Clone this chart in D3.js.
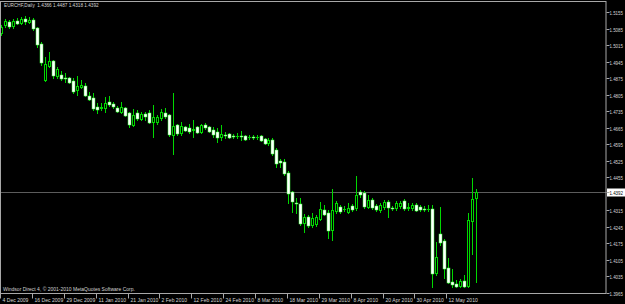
<!DOCTYPE html>
<html><head><meta charset="utf-8">
<script src="https://cdn.jsdelivr.net/npm/d3@7"></script>
<style>html,body{margin:0;padding:0;background:#000;overflow:hidden}</style>
</head><body><svg id="c" width="625" height="304"></svg>
<script>
const dates=["2009-12-04","2009-12-07","2009-12-08","2009-12-09","2009-12-10","2009-12-11","2009-12-14","2009-12-15","2009-12-16","2009-12-17",
"2009-12-18","2009-12-21","2009-12-22","2009-12-23","2009-12-24","2009-12-28","2009-12-29","2009-12-30","2009-12-31","2010-01-04",
"2010-01-05","2010-01-06","2010-01-07","2010-01-08","2010-01-11","2010-01-12","2010-01-13","2010-01-14","2010-01-15","2010-01-18",
"2010-01-19","2010-01-20","2010-01-21","2010-01-22","2010-01-25","2010-01-26","2010-01-27","2010-01-28","2010-01-29","2010-02-01",
"2010-02-02","2010-02-03","2010-02-04","2010-02-05","2010-02-08","2010-02-09","2010-02-10","2010-02-11","2010-02-12","2010-02-15",
"2010-02-16","2010-02-17","2010-02-18","2010-02-19","2010-02-22","2010-02-23","2010-02-24","2010-02-25","2010-02-26","2010-03-01",
"2010-03-02","2010-03-03","2010-03-04","2010-03-05","2010-03-08","2010-03-09","2010-03-10","2010-03-11","2010-03-12","2010-03-15",
"2010-03-16","2010-03-17","2010-03-18","2010-03-19","2010-03-22","2010-03-23","2010-03-24","2010-03-25","2010-03-26","2010-03-28",
"2010-03-29","2010-03-30","2010-03-31","2010-04-01","2010-04-02","2010-04-05","2010-04-06","2010-04-07","2010-04-08","2010-04-09",
"2010-04-12","2010-04-13","2010-04-14","2010-04-15","2010-04-16","2010-04-19","2010-04-20","2010-04-21","2010-04-22","2010-04-23",
"2010-04-26","2010-04-27","2010-04-28","2010-04-29","2010-04-30","2010-05-03","2010-05-04","2010-05-05","2010-05-06","2010-05-07",
"2010-05-10","2010-05-11","2010-05-12","2010-05-13","2010-05-14","2010-05-17","2010-05-18","2010-05-19","2010-05-20","2010-05-21"];

const open=[1.5066,1.5100,1.5113,1.5096,1.5117,1.5109,1.5126,1.5113,1.5121,1.5087,
1.5020,1.4867,1.4926,1.4948,1.4884,1.4888,1.4876,1.4876,1.4863,1.4825,
1.4838,1.4842,1.4800,1.4791,1.4753,1.4749,1.4749,1.4774,1.4766,1.4749,
1.4732,1.4749,1.4727,1.4677,1.4727,1.4702,1.4723,1.4727,1.4689,1.4689,
1.4706,1.4727,1.4719,1.4634,1.4677,1.4643,1.4668,1.4664,1.4655,1.4668,
1.4647,1.4677,1.4668,1.4655,1.4647,1.4626,1.4636,1.4638,1.4630,1.4628,
1.4630,1.4630,1.4624,1.4626,1.4624,1.4630,1.4617,1.4600,1.4613,1.4571,
1.4522,1.4520,1.4473,1.4393,1.4348,1.4342,1.4261,1.4287,1.4253,1.4257,
1.4278,1.4317,1.4304,1.4232,1.4312,1.4329,1.4319,1.4308,1.4333,1.4325,
1.4393,1.4389,1.4329,1.4359,1.4333,1.4317,1.4329,1.4350,1.4327,1.4325,
1.4333,1.4355,1.4327,1.4325,1.4338,1.4329,1.4321,1.4319,1.4321,1.4050,
1.4215,1.4185,1.4071,1.4012,1.4003,1.3995,1.4016,1.3995,1.4270,1.4366];

const high=[1.5100,1.5126,1.5121,1.5126,1.5130,1.5134,1.5138,1.5134,1.5130,1.5092,
1.5028,1.4965,1.4986,1.4952,1.4922,1.4905,1.4897,1.4880,1.4876,1.4884,
1.4867,1.4854,1.4816,1.4812,1.4770,1.4770,1.4795,1.4800,1.4774,1.4757,
1.4774,1.4753,1.4732,1.4744,1.4740,1.4732,1.4732,1.4740,1.4761,1.4719,
1.4744,1.4749,1.4723,1.4812,1.4681,1.4689,1.4672,1.4681,1.4698,1.4672,
1.4681,1.4685,1.4672,1.4668,1.4664,1.4677,1.4647,1.4643,1.4638,1.4643,
1.4651,1.4634,1.4634,1.4634,1.4634,1.4634,1.4621,1.4621,1.4621,1.4579,
1.4533,1.4533,1.4482,1.4397,1.4367,1.4367,1.4300,1.4295,1.4304,1.4295,
1.4350,1.4338,1.4317,1.4406,1.4355,1.4338,1.4333,1.4346,1.4342,1.4461,
1.4401,1.4397,1.4380,1.4367,1.4342,1.4346,1.4359,1.4359,1.4333,1.4355,
1.4355,1.4363,1.4346,1.4346,1.4346,1.4338,1.4333,1.4338,1.4338,1.4181,
1.4329,1.4194,1.4113,1.4067,1.4020,1.4024,1.4041,1.4304,1.4452,1.4406];

const low=[1.5058,1.5092,1.5087,1.5087,1.5104,1.5104,1.5104,1.5109,1.5079,1.5007,
1.4931,1.4863,1.4922,1.4876,1.4876,1.4867,1.4859,1.4854,1.4812,1.4804,
1.4833,1.4800,1.4782,1.4740,1.4727,1.4740,1.4732,1.4757,1.4749,1.4732,
1.4727,1.4715,1.4668,1.4672,1.4698,1.4698,1.4698,1.4685,1.4626,1.4681,
1.4698,1.4706,1.4630,1.4554,1.4634,1.4634,1.4651,1.4643,1.4626,1.4643,
1.4643,1.4660,1.4647,1.4626,1.4605,1.4613,1.4621,1.4621,1.4621,1.4621,
1.4613,1.4613,1.4617,1.4617,1.4617,1.4609,1.4596,1.4592,1.4550,1.4499,
1.4499,1.4465,1.4346,1.4308,1.4304,1.4253,1.4223,1.4245,1.4245,1.4249,
1.4274,1.4295,1.4198,1.4190,1.4304,1.4304,1.4312,1.4304,1.4312,1.4317,
1.4372,1.4325,1.4325,1.4321,1.4312,1.4308,1.4321,1.4287,1.4317,1.4317,
1.4325,1.4317,1.4317,1.4317,1.4312,1.4312,1.4312,1.4312,1.3991,1.4041,
1.4168,1.4029,1.4008,1.3991,1.3991,1.3991,1.3991,1.3991,1.4130,1.4012];

const close=[1.5092,1.5117,1.5096,1.5117,1.5109,1.5126,1.5117,1.5121,1.5087,1.5020,
1.4943,1.4935,1.4948,1.4888,1.4914,1.4876,1.4874,1.4859,1.4821,1.4842,
1.4846,1.4804,1.4787,1.4749,1.4744,1.4753,1.4770,1.4766,1.4757,1.4736,
1.4753,1.4719,1.4681,1.4719,1.4706,1.4723,1.4715,1.4689,1.4710,1.4710,
1.4732,1.4715,1.4638,1.4672,1.4643,1.4672,1.4655,1.4651,1.4660,1.4647,
1.4677,1.4668,1.4651,1.4638,1.4626,1.4638,1.4634,1.4626,1.4628,1.4630,
1.4628,1.4617,1.4626,1.4624,1.4626,1.4613,1.4600,1.4613,1.4558,1.4516,
1.4520,1.4473,1.4389,1.4355,1.4346,1.4261,1.4287,1.4253,1.4283,1.4287,
1.4321,1.4300,1.4232,1.4317,1.4346,1.4312,1.4321,1.4325,1.4321,1.4380,
1.4384,1.4333,1.4359,1.4329,1.4321,1.4338,1.4350,1.4329,1.4325,1.4346,
1.4346,1.4325,1.4329,1.4338,1.4317,1.4321,1.4319,1.4321,1.4050,1.4117,
1.4181,1.4071,1.4012,1.4003,1.3995,1.4016,1.3995,1.4274,1.4363,1.4392];

const yTicks=[1.5155,1.5085,1.5015,1.4945,1.4875,1.4805,1.4735,1.4665,1.4595,1.4525,1.4455,1.4315,1.4245,1.4175,1.4105,1.4035,1.3965];
const xTickDates=["2009-12-04","2009-12-16","2009-12-29","2010-01-11","2010-01-21","2010-02-02","2010-02-12","2010-02-24","2010-03-08","2010-03-18","2010-03-29","2010-04-08","2010-04-20","2010-04-30","2010-05-12"];
const xTickLabels=["4 Dec 2009","16 Dec 2009","29 Dec 2009","11 Jan 2010","21 Jan 2010","2 Feb 2010","12 Feb 2010","24 Feb 2010","8 Mar 2010","18 Mar 2010","29 Mar 2010","8 Apr 2010","20 Apr 2010","30 Apr 2010","12 May 2010"];
const lastPrice=1.4392;
const titleText="EURCHF,Daily  1.4366 1.4487 1.4318 1.4392";
const footerText="Windsor Direct 4, \u00a9 2001-2010 MetaQuotes Software Corp.";

const W=625,H=304,R=606,B=293.5;
const FONT="'Liberation Sans', Arial, sans-serif";
const TXT="#d4d4d4", FRAME="#a8a8a8", GREEN="#00d800";
const svg=d3.select("#c");
svg.append("rect").attr("width",W).attr("height",H).attr("fill","#000");

const x=d3.scaleBand().domain(dates).range([0,dates.length*3.985]).padding(0);
const y=d3.scaleLinear().domain([1.3965,1.5155]).range([293,12]);

svg.append("defs").append("clipPath").attr("id","pc").append("rect")
  .attr("x",0).attr("y",2).attr("width",R).attr("height",B-2);

// current price line
const yl=Math.round(y(lastPrice))+0.5;
svg.append("line").attr("x1",1).attr("x2",R).attr("y1",yl).attr("y2",yl)
  .attr("stroke","#5c5c5c").attr("stroke-width",1);

const bars=dates.map((d,i)=>({d,o:open[i],h:high[i],l:low[i],c:close[i]}));
const g=svg.append("g").attr("clip-path","url(#pc)");
const cx=d=>Math.round(x(d.d)+x.bandwidth()/2-0.5);
const yTop=d=>Math.round(y(Math.max(d.o,d.c)));
const yBot=d=>Math.round(y(Math.min(d.o,d.c)));
g.selectAll("line.w").data(bars).enter().append("line").attr("class","w")
  .attr("x1",d=>cx(d)+0.5).attr("x2",d=>cx(d)+0.5)
  .attr("y1",d=>Math.round(y(d.h))).attr("y2",d=>Math.round(y(d.l))+1)
  .attr("stroke",GREEN).attr("stroke-width",1);
// bull candles: black body, green outline
g.selectAll("rect.up").data(bars.filter(d=>d.c>=d.o)).enter().append("rect").attr("class","up")
  .attr("x",d=>cx(d)-0.5).attr("y",d=>yTop(d)+0.5).attr("width",2)
  .attr("height",d=>Math.max(0.01,yBot(d)-yTop(d)))
  .attr("fill","#000").attr("stroke",GREEN).attr("stroke-width",1);
// bear candles: white body, thin green edge
g.selectAll("rect.dn").data(bars.filter(d=>d.c<d.o)).enter().append("rect").attr("class","dn")
  .attr("x",d=>cx(d)-1).attr("y",d=>yTop(d)).attr("width",3)
  .attr("height",d=>Math.max(1,yBot(d)-yTop(d)+1))
  .attr("fill","#ffffff").attr("stroke","#3cff3c").attr("stroke-width",0.5);

// frame
svg.append("rect").attr("x",0.5).attr("y",1.5).attr("width",R-0.5).attr("height",B-1.5)
  .attr("fill","none").attr("stroke",FRAME).attr("stroke-width",1);

function squeeze(sel,k){sel.each(function(){const t=d3.select(this);const x0=+t.attr("x")||0;
  t.attr("transform",`translate(${x0},0) scale(${k},1) translate(${-x0},0)`);});}

// right axis
const ay=svg.append("g").attr("transform",`translate(${R+0.5},0)`)
  .call(d3.axisRight(y).tickValues(yTicks).tickSize(3).tickPadding(0).tickFormat(d3.format(".4f")));
ay.select(".domain").remove();
ay.selectAll(".tick line").attr("stroke",FRAME);
ay.selectAll(".tick").attr("transform",d=>`translate(0,${Math.round(y(d))+0.5})`);
const ayt=ay.selectAll(".tick text").attr("fill",TXT).attr("font-family",FONT).attr("font-size","6px").attr("x",3).attr("dy","0.35em");
const kY=13.5/ayt.node().getComputedTextLength();
squeeze(ayt,kY);

// price label box
svg.append("rect").attr("x",607).attr("y",yl-4).attr("width",18).attr("height",8).attr("fill","#ffffff");
svg.append("line").attr("x1",R+0.5).attr("x2",R+3.5).attr("y1",yl).attr("y2",yl).attr("stroke",FRAME);
const pl=svg.append("text").attr("x",609.5).attr("y",yl).attr("dy","0.35em").attr("fill","#000")
  .attr("font-family",FONT).attr("font-size","6px").text(d3.format(".4f")(lastPrice));
squeeze(pl,kY);

// bottom axis
const ax=svg.append("g").attr("transform",`translate(0,${B})`)
  .call(d3.axisBottom(x).tickValues(xTickDates).tickSize(5).tickFormat((d,i)=>xTickLabels[i]));
ax.select(".domain").remove();
ax.selectAll(".tick").attr("transform",d=>`translate(${Math.round(x(d))+0.5},0)`);
ax.selectAll(".tick line").attr("stroke",FRAME);
const axt=ax.selectAll(".tick text").attr("fill",TXT).attr("font-family",FONT).attr("font-size","6px")
  .attr("text-anchor","start").attr("x",2).attr("y",4.5).attr("dy","0.71em");
const kX=26/axt.node().getComputedTextLength();
squeeze(axt,kX);

// title and footer
const tt=svg.append("text").attr("x",4).attr("y",7.5).attr("fill",TXT).attr("font-family",FONT).attr("font-size","6px")
  .attr("xml:space","preserve").text(titleText);
squeeze(tt,95/tt.node().getComputedTextLength());
const ft=svg.append("text").attr("x",3).attr("y",291.5).attr("fill",TXT).attr("font-family",FONT).attr("font-size","6px")
  .text(footerText);
squeeze(ft,132/ft.node().getComputedTextLength());
</script></body></html>
